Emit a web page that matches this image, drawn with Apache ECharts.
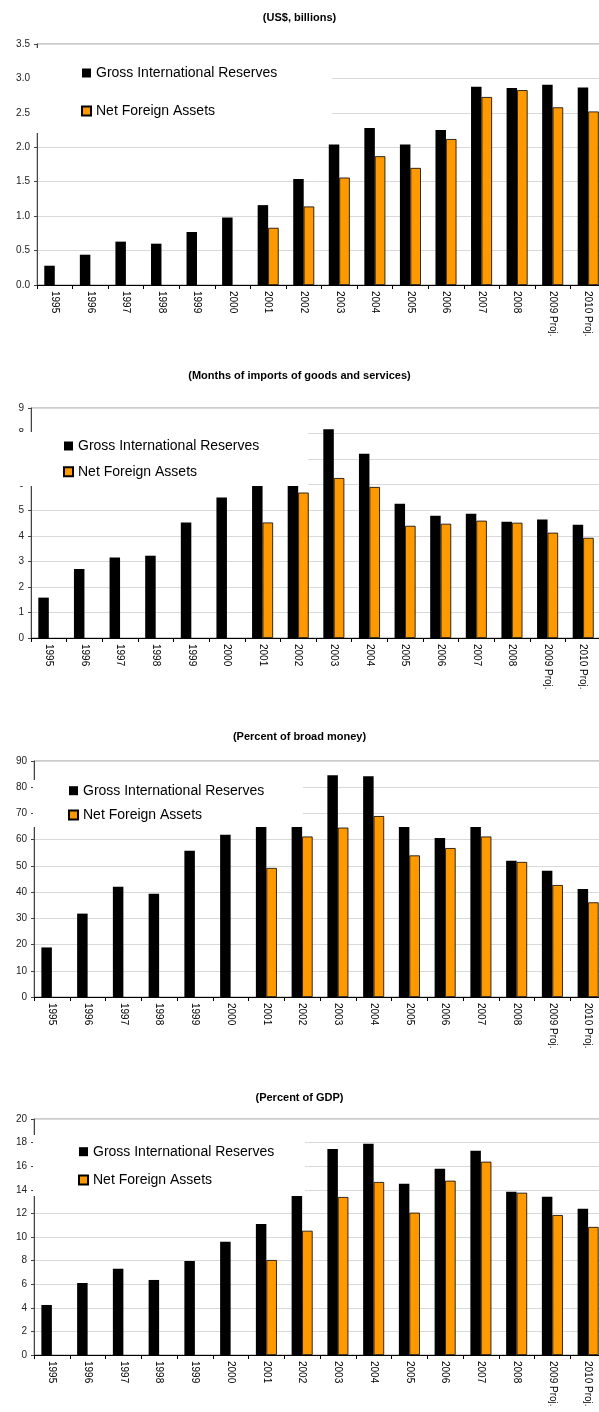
<!DOCTYPE html>
<html>
<head>
<meta charset="utf-8">
<script src="https://cdn.jsdelivr.net/npm/echarts@6/dist/echarts.min.js"></script>
<style>
html,body{margin:0;padding:0;background:#fff;overflow:hidden;}
#c{width:599px;height:1412px;}
</style>
</head>
<body>
<div id="c"></div>
<script>
const categories = ['1995','1996','1997','1998','1999','2000','2001','2002','2003','2004','2005','2006','2007','2008','2009 Proj.','2010 Proj.'];
const seriesNames = ['Gross International Reserves','Net Foreign Assets'];
const titles = ['(US$, billions)','(Months of imports of goods and services)','(Percent of broad money)','(Percent of GDP)'];

const grossUSD = [0.28,0.44,0.63,0.60,0.77,0.98,1.16,1.54,2.04,2.28,2.04,2.25,2.88,2.86,2.91,2.87];
const netUSD   = [null,null,null,null,null,null,0.83,1.14,1.56,1.87,1.70,2.12,2.73,2.83,2.58,2.52];

const grossMonths = [1.58,2.70,3.15,3.22,4.52,5.50,6.30,7.70,8.17,7.21,5.25,4.78,4.86,4.55,4.64,4.43];
const netMonths   = [null,null,null,null,null,null,4.52,5.69,6.26,5.91,4.39,4.47,4.59,4.51,4.12,3.92];

const grossBroad = [18.9,31.8,42.0,39.4,55.8,61.9,68.9,82.6,84.6,84.2,64.8,60.6,64.8,52.0,48.1,41.2];
const netBroad   = [null,null,null,null,null,null,49.2,61.2,64.6,69.0,54.0,56.8,61.2,51.5,42.7,36.1];

const grossGDP = [4.24,6.10,7.30,6.36,7.97,9.60,11.1,14.2,17.46,17.9,14.52,15.79,17.31,13.84,13.42,12.4];
const netGDP   = [null,null,null,null,null,null,8.05,10.53,13.39,14.66,12.06,14.77,16.38,13.75,11.86,10.85];

const yMax = [3.5, 9, 90, 20];
const yInterval = [0.5, 1, 10, 2];

const panels = [
  {gross: grossUSD, net: netUSD, grid:{left:37, width:569, top:44, height:241}, titleTop:7,
   legend:{left:81, top:65, gap:22}, box:{x:32, y:48, w:300, h:85}, fmt: v => v.toFixed(1)},
  {gross: grossMonths, net: netMonths, grid:{left:31, width:570, top:408, height:230}, titleTop:365,
   legend:{left:63, top:438, gap:9.7}, box:{x:4, y:432, w:304, h:54}, fmt: v => String(v)},
  {gross: grossBroad, net: netBroad, grid:{left:34, width:572, top:761, height:236}, titleTop:726,
   legend:{left:68, top:782.7, gap:8.3}, box:{x:33, y:780, w:270, h:47}, fmt: v => String(v)},
  {gross: grossGDP, net: netGDP, grid:{left:34, width:572, top:1119, height:236}, titleTop:1087,
   legend:{left:78, top:1143.7, gap:12.3}, box:{x:33, y:1135, w:272, h:61}, fmt: v => String(v)}
];

const FONT = '"Liberation Sans", Arial, sans-serif';
const option = {
  animation: false,
  backgroundColor: '#fff',
  title: [], grid: [], xAxis: [], yAxis: [], series: [], legend: [], graphic: []
};

panels.forEach((p, i) => {
  option.title.push({
    text: titles[i], left: 'center', top: p.titleTop,
    textStyle: {fontSize: 11, fontWeight: 'bold', color: '#000', fontFamily: FONT}
  });
  option.grid.push(Object.assign({
    show: true, borderColor: '#999', borderWidth: 1, backgroundColor: 'transparent',
    containLabel: false, outerBoundsMode: 'none'
  }, p.grid));
  option.xAxis.push({
    type: 'category', gridIndex: i, data: categories,
    axisLine: {lineStyle: {color: '#000', width: 1}},
    axisTick: {show: true, length: 4, lineStyle: {color: '#000'}},
    axisLabel: {rotate: -90, fontSize: 10, color: '#000', margin: 6, fontFamily: FONT, interval: 0}
  });
  option.yAxis.push({
    type: 'value', gridIndex: i, min: 0, max: yMax[i], interval: yInterval[i],
    axisLine: {show: true, lineStyle: {color: '#444'}},
    axisTick: {show: true, length: 3, lineStyle: {color: '#444'}},
    splitLine: {show: true, lineStyle: {color: '#d9d9d9', width: 1}},
    axisLabel: {fontSize: 10, color: '#222', margin: 7, fontFamily: FONT, formatter: p.fmt}
  });
  option.series.push({
    name: seriesNames[0], type: 'bar', xAxisIndex: i, yAxisIndex: i, data: p.gross,
    barWidth: 10.5, barGap: '0%',
    itemStyle: {color: '#000'}
  });
  option.series.push({
    name: seriesNames[1], type: 'bar', xAxisIndex: i, yAxisIndex: i, data: p.net,
    barWidth: 10.5, barGap: '0%',
    itemStyle: {color: '#FF9900', borderColor: '#000', borderWidth: 0.8}
  });
  option.legend.push({
    orient: 'vertical', left: p.legend.left, top: p.legend.top, itemGap: p.legend.gap,
    padding: 0, itemWidth: 9, itemHeight: 9, icon: 'rect', selectedMode: false,
    data: seriesNames,
    textStyle: {fontSize: 14, lineHeight: 16, color: '#000', fontFamily: FONT}
  });
  option.graphic.push({
    type: 'rect', z: 3, silent: true,
    shape: {x: p.box.x, y: p.box.y, width: p.box.w, height: p.box.h},
    style: {fill: '#fff'}
  });
});

const chart = echarts.init(document.getElementById('c'), null, {renderer: 'canvas'});
chart.setOption(option);
</script>
</body>
</html>
